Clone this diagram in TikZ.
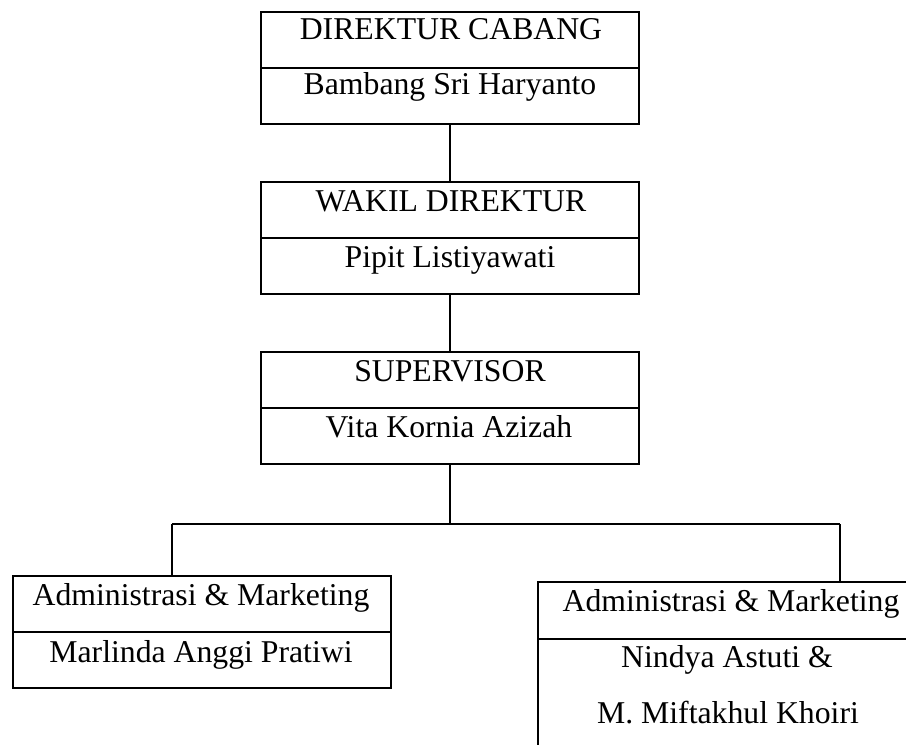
\documentclass[tikz,border=0pt]{standalone}
\usepackage{fontspec}
\setmainfont{Liberation Serif}

\tikzset{
  cell/.style={draw, rectangle, inner sep=0pt, line width=1.4pt,
    minimum width=283.5pt, minimum height=42pt},
  garis/.style={line width=1.4pt},
  teks/.style={anchor=base, inner sep=0pt, font=\fontsize{23.8}{28}\selectfont},
}

\begin{document}
\begin{tikzpicture}[x=0.75pt,y=0.75pt,yscale=-1,xscale=1]
\useasboundingbox (0,0) rectangle (906,744);
\clip (0,0) rectangle (906,744);

%Shape: Rectangle (direktur)
\node [cell] (dir1) at (450,40) {};
\node [cell] (dir2) at (450,96) {};
%Shape: Rectangle (wakil)
\node [cell] (wak1) at (450,210) {};
\node [cell] (wak2) at (450,266) {};
%Shape: Rectangle (supervisor)
\node [cell] (sup1) at (450,380) {};
\node [cell] (sup2) at (450,436) {};
%Shape: Rectangle (admin kiri)
\node [cell] (kiri1) at (202,604) {};
\node [cell] (kiri2) at (202,660) {};
%Shape: Rectangle (admin kanan)
\node [cell, minimum height=42.75pt] (kanan1) at (727,610.5) {};
\node [cell, minimum height=120pt] (kanan2) at (727,719) {};

%Straight Lines
\draw [garis] (dir2.south) -- (wak1.north);
\draw [garis] (wak2.south) -- (sup1.north);
\coordinate (cabkiri) at (172,524);
\coordinate (cabkanan) at (840,524);
\draw [garis] (sup2.south) -- (sup2.south |- cabkiri);
\draw [garis] (cabkiri) -- (cabkanan);
\draw [garis] (cabkiri) -- (cabkiri |- kiri1.north);
\draw [garis] (cabkanan) -- (cabkanan |- kanan1.north);

% Text Node
\node [teks] (dirjab) at (451,39) {DIREKTUR CABANG};
% Text Node
\node [teks] (dirnama) at (450,94) {Bambang Sri Haryanto};
% Text Node
\node [teks] (wakjab) at (451,211) {WAKIL DIREKTUR};
% Text Node
\node [teks] (waknama) at (450,267) {Pipit Listiyawati};
% Text Node
\node [teks] (supjab) at (450,381) {SUPERVISOR};
% Text Node
\node [teks] (supnama) at (449,437) {Vita Kornia Azizah};
% Text Node
\node [teks] (kirijab) at (201,605) {Administrasi \& Marketing};
% Text Node
\node [teks] (kirinama) at (201,662) {Marlinda Anggi Pratiwi};
% Text Node
\node [teks] (kananjab) at (731,611) {Administrasi \& Marketing};
% Text Node
\node [teks] (kanannama) at (727,667) {Nindya Astuti \&};
% Text Node
\node [teks] (kanannama2) at (728,723) {M. Miftakhul Khoiri};

\end{tikzpicture}
\end{document}
